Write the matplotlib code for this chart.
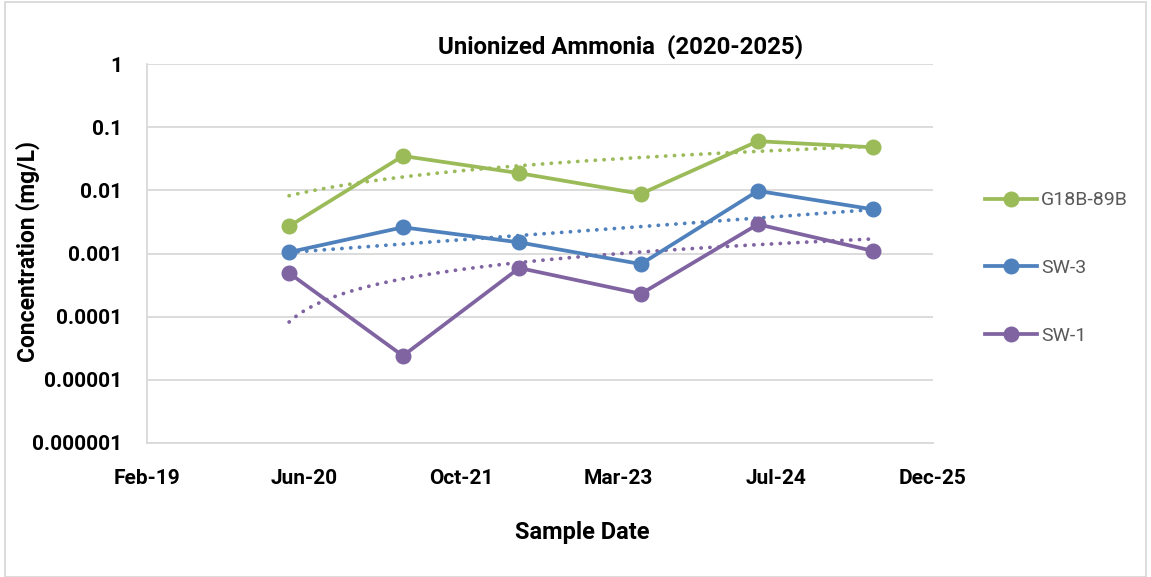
import matplotlib
matplotlib.use("Agg")
import matplotlib.pyplot as plt
import matplotlib.dates as mdates
import numpy as np
from datetime import datetime, timedelta
from matplotlib.patches import Rectangle

plt.rcParams['font.family'] = ['Roboto', 'DejaVu Sans']

sample_dates = ["2020-05-01", "2021-04-28", "2022-05-03", "2023-05-25", "2024-05-31", "2025-06-01"]
series_names = ["G18B-89B", "SW-3", "SW-1"]
g18b_89b = [0.0027, 0.035, 0.0187, 0.0088, 0.060, 0.048]
sw_3 = [0.00105, 0.0026, 0.0015, 0.00068, 0.0098, 0.0050]
sw_1 = [0.00049, 0.000024, 0.00059, 0.00023, 0.0029, 0.0011]
trend_types = ["linear", "exponential", "linear"]
y_ticks = [1e-6, 1e-5, 1e-4, 1e-3, 1e-2, 1e-1, 1]
y_tick_labels = ["0.000001", "0.00001", "0.0001", "0.001", "0.01", "0.1", "1"]
x_start = "2019-02-04"
x_step_days = 500
n_x_ticks = 6

colors = ["#9BBB59", "#4F81BD", "#8064A2"]

dates = [datetime.strptime(d, "%Y-%m-%d") for d in sample_dates]
xnum = mdates.date2num(dates)

fig = plt.figure(figsize=(11.51, 5.77), dpi=100)
ax = fig.add_axes([147/1151, 1-443/577, (933-147)/1151, (443-64)/577])

handles = []
for name, vals, c, tt in zip(series_names, [g18b_89b, sw_3, sw_1], colors, trend_types):
    vals = np.array(vals)
    h, = ax.plot(dates, vals, color=c, lw=2.7, marker='o', markersize=10.5,
                 label=name, zorder=3)
    handles.append(h)
    xt = np.linspace(xnum[0], xnum[-1], 300)
    if tt == "linear":
        m, b = np.polyfit(xnum - xnum[0], vals, 1)
        yt = m * (xt - xnum[0]) + b
    else:
        m, b = np.polyfit(xnum - xnum[0], np.log(vals), 1)
        yt = np.exp(m * (xt - xnum[0]) + b)
    ax.plot(mdates.num2date(xt), yt, color=c, lw=2.7, linestyle=(0, (0.05, 2.3)),
            dash_capstyle='round', zorder=2)

ax.set_yscale('log')
ax.set_ylim(1e-6, 1)
ax.set_yticks(y_ticks)
ax.set_yticklabels(y_tick_labels)
ax.minorticks_off()

x0 = datetime.strptime(x_start, "%Y-%m-%d")
xt_dates = [x0 + timedelta(days=x_step_days * i) for i in range(n_x_ticks)]
ax.set_xlim(xt_dates[0], xt_dates[-1])
ax.set_xticks(xt_dates)
ax.xaxis.set_major_formatter(mdates.DateFormatter("%b-%y"))

ax.grid(axis='y', color='#D9D9D9', lw=1.3, zorder=0)
ax.grid(axis='x', visible=False)
for s in ['top', 'right']:
    ax.spines[s].set_visible(False)
for s in ['left', 'bottom']:
    ax.spines[s].set_color('#D9D9D9')
    ax.spines[s].set_linewidth(1.3)
ax.tick_params(axis='both', length=0, labelsize=15)
for lab in ax.get_xticklabels() + ax.get_yticklabels():
    lab.set_fontweight('bold')
ax.tick_params(axis='x', pad=19)
ax.tick_params(axis='y', pad=18)

fig.text(621/1151, 1-47/577, "Unionized Ammonia  (2020-2025)", ha='center', va='center',
         fontsize=17.3, fontweight='bold')
fig.text(582/1151, 1-532/577, "Sample Date", ha='center', va='center',
         fontsize=17, fontweight='bold')
fig.text(28/1151, 1-251/577, "Concentration (mg/L)", ha='center', va='center',
         rotation=90, fontsize=16.5, fontweight='bold')

leg = fig.legend(handles=handles, loc='center left', bbox_to_anchor=(967/1151, 1-268/577),
                 frameon=False, fontsize=14, labelspacing=2.55, handlelength=2.7,
                 handletextpad=0.2, labelcolor='#595959')

fig.patches.append(Rectangle((5/1151, 0), 1-10/1151, 1-2/577, transform=fig.transFigure,
                             fill=False, edgecolor='#D9D9D9', lw=1.3))

fig.savefig("out.png", dpi=100)
